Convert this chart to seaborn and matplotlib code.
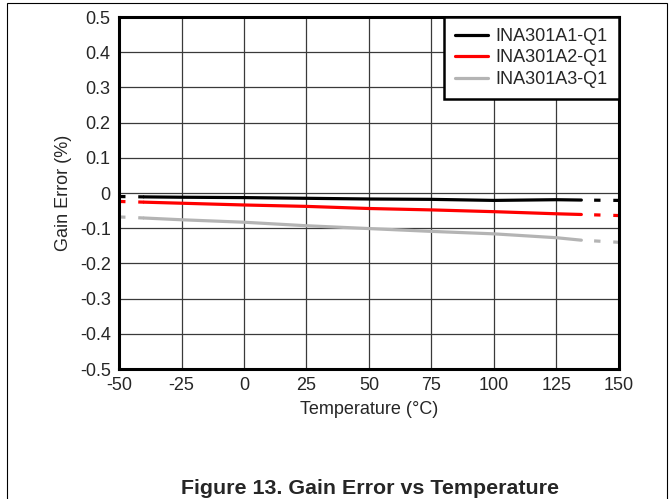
import numpy as np
import pandas as pd
import matplotlib
matplotlib.use("Agg")
import matplotlib.pyplot as plt
import seaborn as sns
from matplotlib.patches import Rectangle

# Data
temps = [-50, -40, -25, 0, 25, 50, 75, 100, 125, 135, 150]
a1 = [-0.010, -0.011, -0.012, -0.013, -0.015, -0.017, -0.018, -0.021, -0.019, -0.020, -0.021]
a2 = [-0.024, -0.026, -0.029, -0.034, -0.038, -0.044, -0.048, -0.053, -0.059, -0.061, -0.064]
a3 = [-0.068, -0.071, -0.076, -0.083, -0.093, -0.101, -0.109, -0.116, -0.127, -0.134, -0.140]
names = ["INA301A1-Q1", "INA301A2-Q1", "INA301A3-Q1"]
colors = ["#000000", "#ff0000", "#b4b4b4"]
xticks = [-50, -25, 0, 25, 50, 75, 100, 125, 150]
yticks = [-0.5, -0.4, -0.3, -0.2, -0.1, 0, 0.1, 0.2, 0.3, 0.4, 0.5]

sns.set_style("white")
plt.rcParams['font.family'] = ['Liberation Sans', 'DejaVu Sans']

# long form table for the measured (solid) range
rows = []
for name, vals in zip(names, [a1, a2, a3]):
    for t, v in zip(temps[1:10], vals[1:10]):
        rows.append({"temp": t, "err": v, "device": name})
df = pd.DataFrame(rows)

fig = plt.figure(figsize=(6.69, 4.99), dpi=100)
ax = fig.add_axes([0.178, 0.2605, 0.747, 0.7054])

lw = 2.3
sns.lineplot(data=df, x="temp", y="err", hue="device", palette=colors,
             linewidth=lw, ax=ax, legend=True)

# extrapolated ends drawn dashed
for vals, c in zip([a1, a2, a3], colors):
    ax.plot(temps[0:2], vals[0:2], color=c, linewidth=lw, linestyle=(0, (2, 4)),
            dash_capstyle="butt")
    ax.plot(temps[9:11], vals[9:11], color=c, linewidth=lw, linestyle=(2, (2, 4)),
            dash_capstyle="butt")

ax.set_xlim(-50, 150)
ax.set_ylim(-0.5, 0.5)
ax.set_xticks(xticks)
ax.set_xticklabels([str(t) for t in xticks])
ax.set_yticks(yticks)
ax.set_yticklabels(["0" if v == 0 else f"{v:g}" for v in yticks])
ax.tick_params(labelsize=13, length=0, pad=6)
ax.grid(True, color="#3a3a3a", linewidth=0.9)
for s in ax.spines.values():
    s.set_color("black")
    s.set_linewidth(2.2)

ax.set_xlabel("Temperature (°C)", fontsize=13, labelpad=5)
ax.set_ylabel("Gain Error (%)", fontsize=13, labelpad=6)

leg = ax.legend(loc="upper right", fontsize=13, frameon=True, fancybox=False,
                borderaxespad=0, handlelength=1.8, handletextpad=0.45,
                labelspacing=0.25, borderpad=0.6)
leg.get_frame().set_edgecolor("black")
leg.get_frame().set_linewidth(1.8)
leg.get_frame().set_alpha(1)

fig.text(0.553, 0.010, "Figure 13. Gain Error vs Temperature", ha="center",
         va="baseline", fontsize=15.4, fontweight="bold")

fig.patches.append(Rectangle((0.0105, -0.05), 0.986, 1.044, transform=fig.transFigure,
                             fill=False, edgecolor="black", linewidth=0.8))

fig.savefig("out.png", dpi=100)
